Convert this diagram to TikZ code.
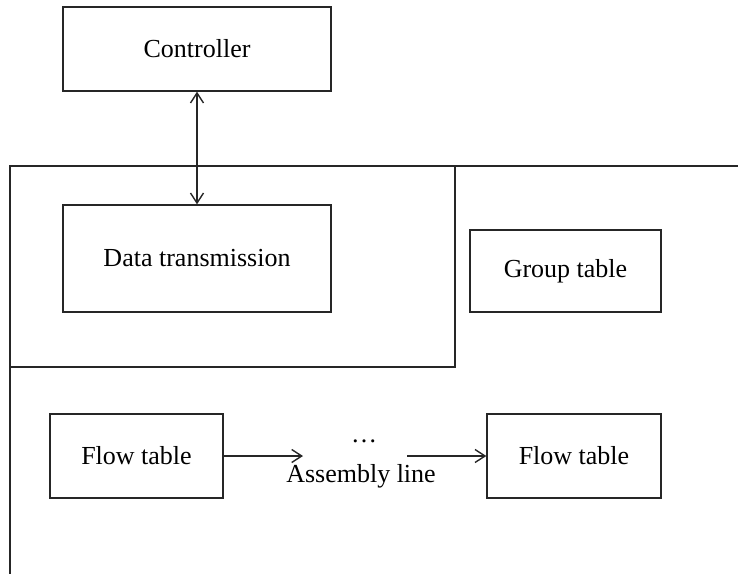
\documentclass[tikz,border=0pt]{standalone}
\usepackage{fontspec}
\setmainfont{Liberation Serif}
\usetikzlibrary{arrows.meta}
\begin{document}
\begin{tikzpicture}[x=1pt,y=-1pt,
  box/.style={draw=black!85,line width=1.4pt,rectangle,inner sep=0pt,align=center,font=\fontsize{26}{30}\selectfont},
  lbl/.style={inner sep=0pt,font=\fontsize{26}{30}\selectfont},
  conn/.style={draw=black!85,line width=1.4pt},
  arr/.style={conn,-{Straight Barb[length=10pt,width=13pt,line width=1.4pt]}},
  darr/.style={conn,{Straight Barb[length=10pt,width=13pt,line width=1.4pt]}-{Straight Barb[length=10pt,width=13pt,line width=1.4pt]}}]
\useasboundingbox (0,0) rectangle (738,574);
% frame
\draw[conn] (738,166) -- (10,166) -- (10,574);
\draw[conn] (10,166) rectangle (455,367);
% nodes
\node[box,minimum width=268pt,minimum height=84pt] (ctrl) at (197,49) {Controller};
\node[box,minimum width=268pt,minimum height=107pt] (data) at (197,258.5) {Data transmission};
\node[box,minimum width=191pt,minimum height=82pt] (group) at (565.5,271) {Group table};
\node[box,minimum width=173pt,minimum height=84pt] (f1) at (136.5,456) {Flow table};
\node[box,minimum width=174pt,minimum height=84pt] (f2) at (574,456) {Flow table};
\node[lbl] (dots) at (364,441) {…};
\node[lbl] (asm) at (361,476) {Assembly line};
\coordinate (a1) at (303,456);
\coordinate (a2) at (407,456);
% connectors
\draw[darr] (ctrl.south) -- (data.north);
\draw[arr] (f1.east) -- (a1);
\draw[arr] (a2) -- (f2.west);
\end{tikzpicture}
\end{document}
